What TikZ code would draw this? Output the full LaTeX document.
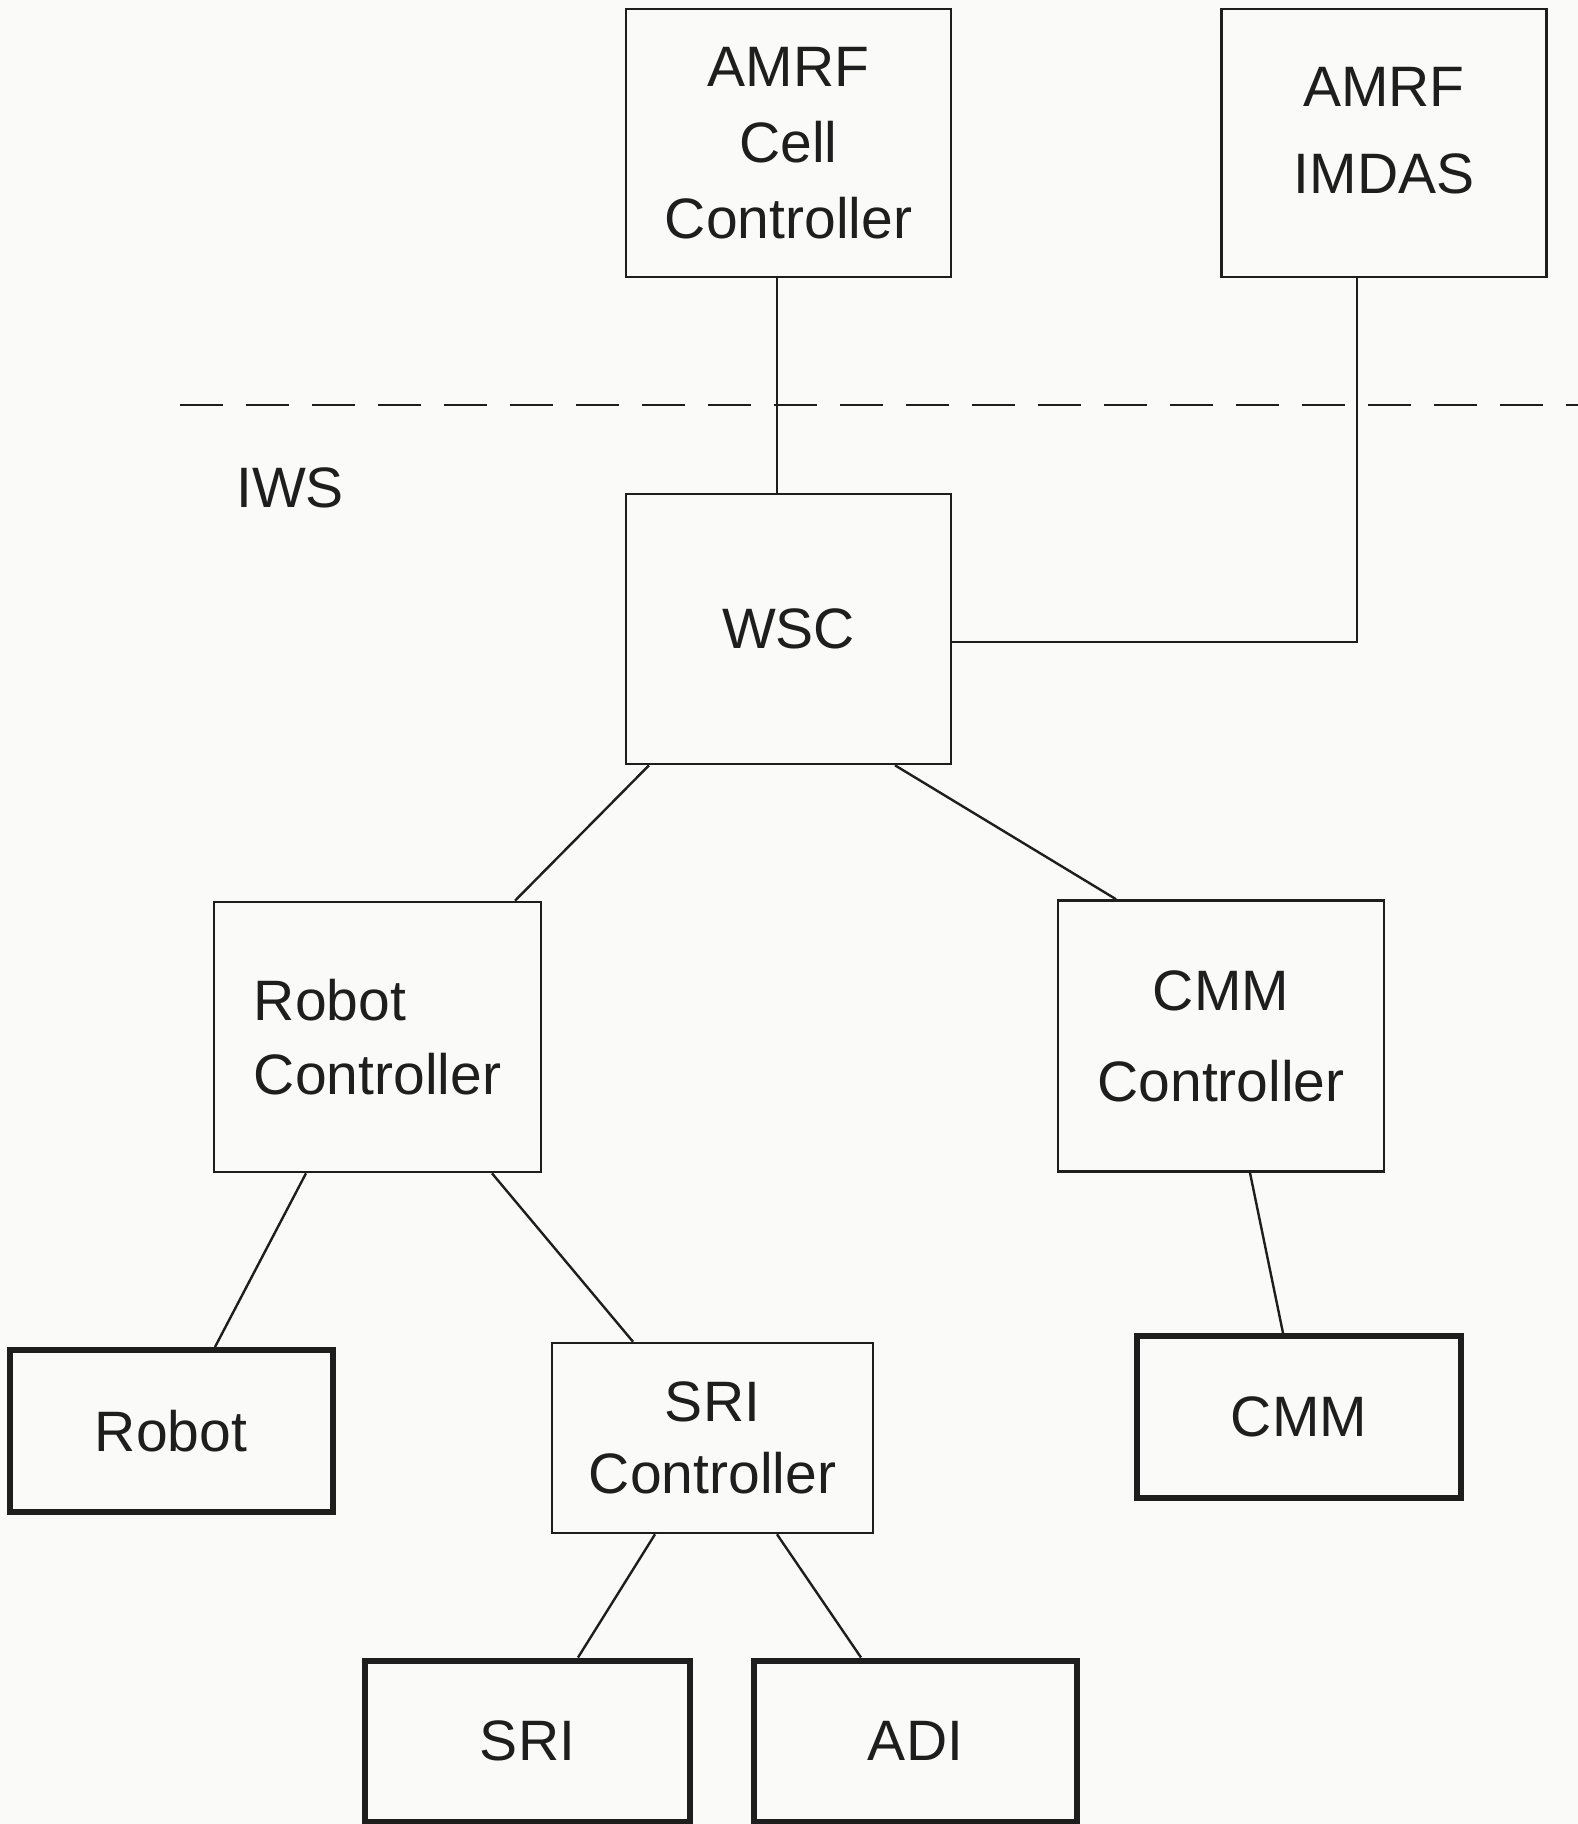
\documentclass[tikz,border=0pt]{standalone}
\usepackage{fontspec}
\setmainfont{Liberation Sans}
\definecolor{paper}{RGB}{250,250,248}
\definecolor{ink}{RGB}{30,30,30}
\begin{document}
\begin{tikzpicture}[x=1pt,y=-1pt,
  box/.style={draw=ink,line width=2.6pt,minimum width=325pt,inner sep=0pt,
    align=center,font=\fontsize{57}{76}\selectfont,text=ink},
  devbox/.style={box,line width=6pt,minimum width=320pt},
  link/.style={draw=ink,line width=2.4pt}]
% page
\fill[paper] (0,0) rectangle (1578,1824);
\useasboundingbox (0,0) rectangle (1578,1824);

% external systems
\node[box,minimum height=268pt] (cell) at (788.5,143) {AMRF\\Cell\\Controller};
\node[box,minimum height=268pt,font=\fontsize{57}{87}\selectfont] (imdas) at (1384,143) {AMRF\\IMDAS\\[-61pt]};

% boundary of the workstation
\coordinate (bl) at (180,405);
\coordinate (br) at (1578,405);
\draw[ink,line width=2.4pt,dash pattern=on 43pt off 23pt] (bl) -- (br);
\node[font=\fontsize{57}{67}\selectfont,text=ink] (iws) at (290,488) {IWS};

% workstation controller
\node[box,minimum height=270pt] (wsc) at (788.5,629) {WSC};

% equipment controllers
\node[box,minimum width=327pt,minimum height=270pt,align=left,font=\fontsize{57}{74}\selectfont] (rc) at (377.5,1037) {Robot\\Controller};
\node[box,minimum width=326pt,minimum height=271pt,font=\fontsize{57}{91}\selectfont] (cc) at (1221,1036) {CMM\\Controller};
\node[box,minimum width=321pt,minimum height=190pt,font=\fontsize{57}{72}\selectfont] (sc) at (712.5,1438) {SRI\\Controller};

% devices
\node[devbox,minimum width=323pt,minimum height=162pt] (robot) at (171,1431) {Robot};
\node[devbox,minimum width=324pt,minimum height=162pt] (cmm) at (1299,1417) {CMM};
\node[devbox,minimum width=325pt,minimum height=161pt] (sri) at (527.5,1741) {SRI};
\node[devbox,minimum width=323pt,minimum height=161pt] (adi) at (915.5,1741) {ADI};

% connections
\draw[link] ([xshift=-11.5pt]cell.south) -- ([xshift=-11.5pt]wsc.north);
\draw[link] ([xshift=-27pt]imdas.south) |- (wsc.east |- 0,642);
\draw[link] ([xshift=-139.5pt]wsc.south) -- ([xshift=137.5pt]rc.north);
\draw[link] ([xshift=106.5pt]wsc.south) -- ([xshift=-105pt]cc.north);
\draw[link] ([xshift=-71.5pt]rc.south) -- ([xshift=44pt]robot.north);
\draw[link] ([xshift=114.5pt]rc.south) -- ([xshift=-79.5pt]sc.north);
\draw[link] ([xshift=29pt]cc.south) -- ([xshift=-16pt]cmm.north);
\draw[link] ([xshift=-57.5pt]sc.south) -- ([xshift=50.5pt]sri.north);
\draw[link] ([xshift=64.5pt]sc.south) -- ([xshift=-54.5pt]adi.north);
\end{tikzpicture}
\end{document}
